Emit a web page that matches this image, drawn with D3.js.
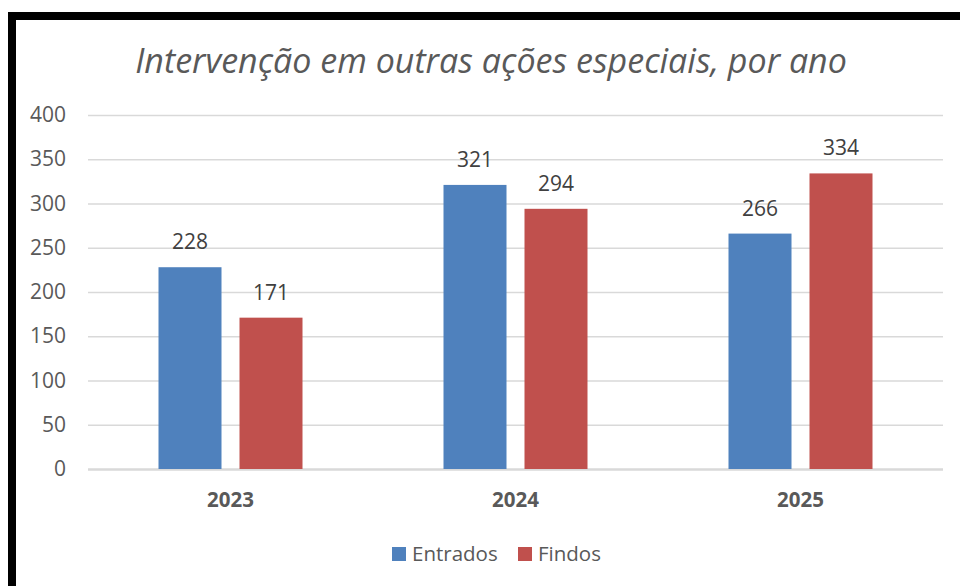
<!DOCTYPE html>
<html><head><meta charset="utf-8">
<script src="https://cdn.jsdelivr.net/npm/d3@7"></script>
<style>body{margin:0;background:#fff;}svg{display:block;}</style>
</head><body>
<svg id="c" width="960" height="586"></svg>
<script>
const categories = ["2023", "2024", "2025"];
const seriesNames = ["Entrados", "Findos"];
const entrados = [228, 321, 266];
const findos = [171, 294, 334];
const yTicks = [0, 50, 100, 150, 200, 250, 300, 350, 400];
const colors = ["#4F81BD", "#C0504D"];
const titleText = "Intervenção em outras ações especiais, por ano";

const svg = d3.select("#c");
const F = "'Open Sans', sans-serif";
svg.append("rect").attr("x",12).attr("y",16).attr("width",1000).attr("height",700)
  .attr("fill","#fff").attr("stroke","#000").attr("stroke-width",8);

const L = 88, R = 943, T = 115, B = 469;
const x = d3.scaleBand().domain(categories).range([L, R]).paddingInner(0).paddingOuter(0);
const y = d3.scaleLinear().domain([0, 400]).range([B, T]);
const barW = 63, gap = 18;
const xs = d3.scaleBand().domain(seriesNames).range([0, barW*2+gap]).paddingInner(gap/(barW+gap)).paddingOuter(0);

svg.append("text").attr("x", 491).attr("y", 73).attr("text-anchor","middle")
  .attr("font-family", F).attr("font-style","italic").attr("font-size", 34).attr("fill","#595959").text(titleText);

const yAxis = d3.axisLeft(y).tickValues(yTicks).tickSize(-(R-L)).tickPadding(22);
const gy = svg.append("g").attr("transform",`translate(${L},0)`).call(yAxis);
gy.select(".domain").remove();
gy.selectAll(".tick line").attr("stroke","#d9d9d9").attr("stroke-width",1.5);
gy.selectAll(".tick text").attr("font-family",F).attr("font-size",21).attr("fill","#595959");
gy.selectAll(".tick").filter(d=>d===0).select("line").attr("stroke-width",2.5);

const data = categories.map((c,i)=>({c, vals:[entrados[i], findos[i]]}));
const off = (x.bandwidth() - (barW*2+gap))/2;
const g = svg.append("g");
data.forEach(d=>{
  d.vals.forEach((v,j)=>{
    const bx = x(d.c) + off + xs(seriesNames[j]);
    g.append("rect").attr("x",bx).attr("y",y(v)).attr("width",xs.bandwidth()).attr("height",y(0)-y(v))
      .attr("fill",colors[j]);
    g.append("text").attr("x",bx+xs.bandwidth()/2).attr("y",y(v)-18).attr("text-anchor","middle")
      .attr("font-family",F).attr("font-size",21).attr("fill","#404040").text(v);
  });
});

const xAxis = d3.axisBottom(x).tickSize(0).tickPadding(0);
const gx = svg.append("g").attr("transform",`translate(0,${B})`).call(xAxis);
gx.select(".domain").remove();
gx.selectAll(".tick text").attr("dy",null).attr("y",38).attr("font-family",F).attr("font-weight","bold")
  .attr("font-size",20.5).attr("fill","#595959");

const leg = svg.append("g");
const legX = [392, 518];
seriesNames.forEach((s,j)=>{
  leg.append("rect").attr("x",legX[j]).attr("y",547).attr("width",14).attr("height",14).attr("fill",colors[j]);
  leg.append("text").attr("x",legX[j]+20).attr("y",561).attr("font-family",F).attr("font-size",20.5)
    .attr("fill","#595959").text(s);
});
</script>
</body></html>
